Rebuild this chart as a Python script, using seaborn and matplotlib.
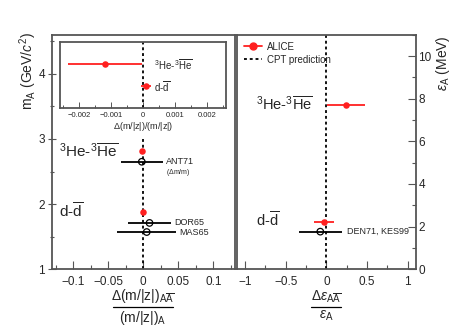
import numpy as np
import pandas as pd
import matplotlib
matplotlib.use('Agg')
import matplotlib.pyplot as plt
import seaborn as sns
from matplotlib.lines import Line2D
from matplotlib.ticker import MultipleLocator

sns.set_theme(style='ticks')
plt.rcParams['font.family'] = ['Liberation Sans', 'DejaVu Sans']
plt.rcParams['mathtext.fontset'] = 'custom'
plt.rcParams['mathtext.rm'] = 'Liberation Sans'
plt.rcParams['mathtext.it'] = 'Liberation Sans:italic'
plt.rcParams['mathtext.bf'] = 'Liberation Sans:bold'

# ---------------- data ----------------
# ALICE mass-over-charge ratio differences (inset values, main panel shows same)
alice_species = ['d', 'He3']
alice_mass = [1.876, 2.809]                 # GeV/c^2
alice_dmz = [0.00009, -0.00118]             # Delta(m/|z|)/(m/|z|)
alice_dmz_err = [0.00015, 0.00116]
# ALICE binding energy differences
alice_eps = [2.224, 7.718]                  # MeV
alice_deps = [-0.03, 0.24]
alice_deps_err = [0.127, 0.235]

# previous measurements, mass panel
prev_names = ['ANT71', 'DOR65', 'MAS65']
prev_y = [2.65, 1.71, 1.57]
prev_x = [-0.002, 0.009, 0.005]
prev_err = [0.030, 0.030, 0.042]

# previous measurements, binding energy panel
prevE_names = ['DEN71, KES99']
prevE_y = [1.76]
prevE_x = [-0.075]
prevE_err = [0.265]

alice_m_df = pd.DataFrame({'x': alice_dmz, 'y': alice_mass, 'err': alice_dmz_err})
alice_e_df = pd.DataFrame({'x': alice_deps, 'y': alice_eps, 'err': alice_deps_err})
prev_df = pd.DataFrame({'x': prev_x, 'y': prev_y, 'err': prev_err, 'name': prev_names})
prevE_df = pd.DataFrame({'x': prevE_x, 'y': prevE_y, 'err': prevE_err, 'name': prevE_names})

HE = r'$^{3}$He-$^{3}\overline{\mathrm{He}}$'
DD = r'd-$\overline{\mathrm{d}}$'
FRAME = '#555555'
RED = '#ff2020'
DASH = (0, (1.6, 1.6))

fig = plt.figure(figsize=(4.73, 3.29), dpi=100)
axL = fig.add_axes([0.110, 0.182, 0.387, 0.712])
axR = fig.add_axes([0.501, 0.182, 0.378, 0.712])
axI = fig.add_axes([0.127, 0.672, 0.351, 0.200])

def style_frame(ax):
    for s in ax.spines.values():
        s.set_visible(True)
        s.set_color(FRAME)
        s.set_linewidth(1.3)
    ax.set_facecolor('white')

# ---------------- left panel ----------------
style_frame(axL)
axL.axvline(0, ymax=0.565, color='black', lw=1.3, ls=DASH, zorder=1)
axL.errorbar(prev_df['x'], prev_df['y'], xerr=prev_df['err'], fmt='none',
             ecolor='black', elinewidth=1.3, capsize=0, zorder=2)
sns.scatterplot(data=prev_df, x='x', y='y', ax=axL, marker='o', s=22,
                facecolor='none', edgecolor='black', linewidth=0.9, zorder=3, legend=False)
axL.errorbar(alice_m_df['x'], alice_m_df['y'], xerr=alice_m_df['err'], fmt='none',
             ecolor=RED, elinewidth=1.3, capsize=0, zorder=4)
sns.scatterplot(data=alice_m_df, x='x', y='y', ax=axL, marker='o', s=22,
                color=RED, edgecolor=RED, linewidth=0, zorder=5, legend=False)
axL.set_xlim(-0.13, 0.131)
axL.set_ylim(1, 4.6)
axL.set_xlabel('')
axL.set_ylabel('')
axL.set_xticks([-0.1, -0.05, 0, 0.05, 0.1])
axL.set_xticklabels(['\u22120.1', '\u22120.05', '0', '0.05', '0.1'])
axL.xaxis.set_minor_locator(MultipleLocator(0.025))
axL.set_yticks([1, 2, 3, 4])
axL.yaxis.set_minor_locator(MultipleLocator(0.5))
axL.tick_params(axis='x', which='major', direction='in', length=6, width=0.8,
                labelsize=8.5, pad=5, color=FRAME, top=False)
axL.tick_params(axis='x', which='minor', direction='in', length=3, width=0.8, color=FRAME, top=False)
axL.tick_params(axis='y', which='major', direction='inout', length=6, width=0.8,
                labelsize=8.5, pad=2, color=FRAME, right=False)
axL.tick_params(axis='y', which='minor', direction='inout', length=3, width=0.8, color=FRAME, right=False)

axL.text(-0.12, 2.8, HE, fontsize=11, va='center', ha='left')
axL.text(-0.12, 1.89, DD, fontsize=11, va='center', ha='left')
for name, x, y, e in zip(prev_names, prev_x, prev_y, prev_err):
    axL.text(x + e + 0.005, y, name, fontsize=6.5, va='center', ha='left')
axL.text(prev_x[0] + prev_err[0] + 0.005, prev_y[0] - 0.16, r'($\Delta$m/m)', fontsize=5, va='center', ha='left')

# ---------------- inset ----------------
style_frame(axI)
axI.axvline(0, color='black', lw=1.3, ls=DASH, zorder=1)
axI.errorbar(alice_m_df['x'], alice_m_df['y'], xerr=alice_m_df['err'], fmt='none',
             ecolor=RED, elinewidth=1.3, capsize=0, zorder=4)
sns.scatterplot(data=alice_m_df, x='x', y='y', ax=axI, marker='o', s=22,
                color=RED, edgecolor=RED, linewidth=0, zorder=5, legend=False)
axI.set_xlim(-0.0026, 0.0026)
axI.set_ylim(0.95, 3.75)
axI.set_ylabel('')
axI.set_yticks([])
axI.set_xticks([-0.002, -0.001, 0, 0.001, 0.002])
axI.set_xticklabels(['\u22120.002', '\u22120.001', '0', '0.001', '0.002'])
axI.xaxis.set_minor_locator(MultipleLocator(0.0005))
axI.tick_params(axis='x', which='major', direction='in', length=4, width=0.7,
                labelsize=5.5, pad=3, color=FRAME)
axI.tick_params(axis='x', which='minor', direction='in', length=2, width=0.7, color=FRAME)
axI.text(0.00033, 2.809, HE, fontsize=7, va='center', ha='left')
axI.text(0.00033, 1.876, DD, fontsize=7, va='center', ha='left')
axI.set_xlabel(r'$\Delta$(m/|z|)/(m/|z|)', fontsize=6.5, labelpad=1)

# ---------------- right panel ----------------
style_frame(axR)
axR.axvline(0, color='black', lw=1.3, ls=DASH, zorder=1)
axR.errorbar(prevE_df['x'], prevE_df['y'], xerr=prevE_df['err'], fmt='none',
             ecolor='black', elinewidth=1.3, capsize=0, zorder=2)
sns.scatterplot(data=prevE_df, x='x', y='y', ax=axR, marker='o', s=22,
                facecolor='none', edgecolor='black', linewidth=0.9, zorder=3, legend=False)
axR.errorbar(alice_e_df['x'], alice_e_df['y'], xerr=alice_e_df['err'], fmt='none',
             ecolor=RED, elinewidth=1.3, capsize=0, zorder=4)
sns.scatterplot(data=alice_e_df, x='x', y='y', ax=axR, marker='o', s=22,
                color=RED, edgecolor=RED, linewidth=0, zorder=5, legend=False)
axR.set_xlim(-1.1, 1.1)
axR.set_ylim(0, 11)
axR.set_xlabel('')
axR.set_ylabel('')
axR.set_xticks([-1, -0.5, 0, 0.5, 1])
axR.set_xticklabels(['\u22121', '\u22120.5', '0', '0.5', '1'])
axR.xaxis.set_minor_locator(MultipleLocator(0.25))
axR.yaxis.tick_right()
axR.set_yticks([0, 2, 4, 6, 8, 10])
axR.yaxis.set_minor_locator(MultipleLocator(1))
axR.tick_params(axis='x', which='major', direction='in', length=6, width=0.8,
                labelsize=8.5, pad=5, color=FRAME, top=False)
axR.tick_params(axis='x', which='minor', direction='in', length=3, width=0.8, color=FRAME, top=False)
axR.tick_params(axis='y', which='major', direction='in', length=6, width=0.8,
                labelsize=8.5, pad=2, color=FRAME, left=False, right=True, labelright=True, labelleft=False)
axR.tick_params(axis='y', which='minor', direction='in', length=3, width=0.8, color=FRAME,
                left=False, right=True)
axR.text(-0.87, 7.72, HE, fontsize=10.5, va='center', ha='left')
axR.text(-0.87, 2.3, DD, fontsize=10.5, va='center', ha='left')
axR.text(prevE_x[0] + prevE_err[0] + 0.06, prevE_y[0], prevE_names[0], fontsize=6.5, va='center', ha='left')

handles = [Line2D([0], [0], color=RED, lw=1.3, marker='o', markersize=5),
           Line2D([0], [0], color='black', lw=1.3, ls=DASH)]
axR.legend(handles, ['ALICE', 'CPT prediction'], loc='upper left', frameon=False,
           fontsize=7, handlelength=1.9, handletextpad=0.5, labelspacing=0.3,
           borderaxespad=0.3, bbox_to_anchor=(0.0, 1.0))

# ---------------- axis titles ----------------
fig.text(28 / 473, 1 - 32 / 329, r'm$_\mathrm{A}$ (GeV/$c^{2}$)', rotation=90, fontsize=10,
         ha='center', va='top')
fig.text(443 / 473, 1 - 35 / 329, r'$\varepsilon_\mathrm{A}$ (MeV)', rotation=90, fontsize=10,
         ha='center', va='top')

fig.text(143 / 473, 1 - 296 / 329, r'$\Delta$(m/|z|)$_{\mathrm{A}\overline{\mathrm{A}}}$',
         fontsize=10, ha='center', va='center')
fig.add_artist(Line2D([113 / 473, 173 / 473], [1 - 307 / 329, 1 - 307 / 329],
                      color='black', lw=0.9, transform=fig.transFigure))
fig.text(143 / 473, 1 - 318 / 329, r'(m/|z|)$_\mathrm{A}$', fontsize=10, ha='center', va='center')

fig.text(326 / 473, 1 - 297 / 329, r'$\Delta\varepsilon_{\mathrm{A}\overline{\mathrm{A}}}$',
         fontsize=10, ha='center', va='center')
fig.add_artist(Line2D([311 / 473, 341 / 473], [1 - 306.5 / 329, 1 - 306.5 / 329],
                      color='black', lw=0.9, transform=fig.transFigure))
fig.text(326 / 473, 1 - 316 / 329, r'$\varepsilon_\mathrm{A}$', fontsize=10, ha='center', va='center')

fig.savefig('out.png', dpi=100)
